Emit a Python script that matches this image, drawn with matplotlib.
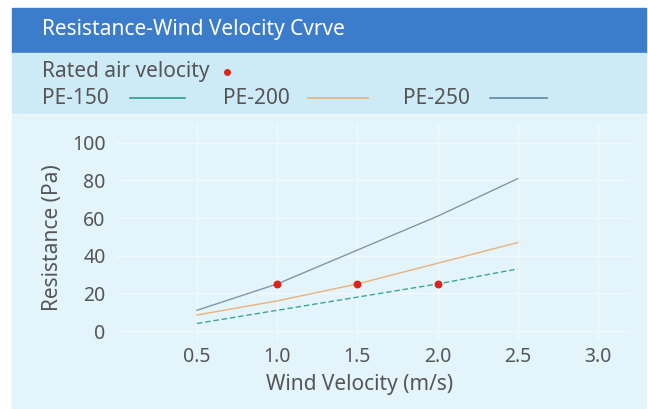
import numpy as np
import matplotlib
matplotlib.use('Agg')
import matplotlib.pyplot as plt
from matplotlib.patches import Rectangle
from matplotlib.lines import Line2D

plt.rcParams['font.family'] = ['Noto Sans', 'DejaVu Sans']

# data
velocity = [0.5, 1.0, 1.5, 2.0, 2.5]
pe150 = [4, 11, 18, 25, 33]
pe200 = [8.5, 16, 25, 36, 47]
pe250 = [11, 25, 43, 61, 81]
rated_x = [1.0, 1.5, 2.0]
rated_y = [25, 25, 25]
xticks = [0.5, 1.0, 1.5, 2.0, 2.5, 3.0]
yticks = [0, 20, 40, 60, 80, 100]

W, H = 648, 409
fig = plt.figure(figsize=(W / 100, H / 100), dpi=100)
FS = 15
grey = '#555555'

def px(x, y):
    # pixel coords (top-left origin) -> figure fraction
    return x / W, 1 - y / H

# backgrounds: title bar, legend band, plot panel
L, R = 12, 646
fig.patches.append(Rectangle(px(L, 53), (R - L) / W, 45 / H, transform=fig.transFigure,
                             color='#3b7dca', zorder=-10))
fig.patches.append(Rectangle(px(L, 113), (R - L) / W, 60 / H, transform=fig.transFigure,
                             color='#cdeaf7', zorder=-10))
fig.patches.append(Rectangle(px(L, H), (R - L) / W, (H - 115) / H, transform=fig.transFigure,
                             color='#e4f4fb', zorder=-10))

fig.text(*px(42, 30), 'Resistance-Wind Velocity Cvrve', color='white', fontsize=FS,
         va='center', ha='left')

# legend band
fig.text(*px(42, 72), 'Rated air velocity', color=grey, fontsize=FS, va='center')
fig.add_artist(Line2D([227 / W], [1 - 72 / H], marker='o', color='#d9261c', markersize=4,
                      transform=fig.transFigure))
entries = [('PE-150', '#2e9e8a', 42, 130, 185),
           ('PE-200', '#e2b27c', 223, 308, 368),
           ('PE-250', '#5b8aa8', 403, 490, 547)]
for name, col, tx, l0, l1 in entries:
    fig.text(*px(tx, 99), name, color=grey, fontsize=FS, va='center')
    fig.add_artist(Line2D([l0 / W, l1 / W], [1 - 98 / H] * 2, color=col, lw=1.2,
                          transform=fig.transFigure))

ax = fig.add_axes([0.1802, 0.1677, 0.792, 0.529])
ax.set_facecolor('none')
ax.plot(velocity, pe150, color='#3aa894', lw=1, ls=(0, (4, 2)))
ax.plot(velocity, pe200, color='#eab27a', lw=1)
ax.plot(velocity, pe250, color='#8196a6', lw=1)
ax.scatter(rated_x, rated_y, color='#d9261c', s=22, zorder=5)

ax.set_xlim(0.0, 3.2)
ax.set_ylim(-5, 110)
ax.set_xticks(xticks)
ax.set_xticklabels([f'{v:.1f}' for v in xticks])
ax.set_yticks(yticks)
for s in ax.spines.values():
    s.set_visible(False)
ax.tick_params(length=0, colors=grey, labelsize=14)
ax.tick_params(axis='x', pad=5)
ax.tick_params(axis='y', pad=8)
ax.grid(True, color='#f2fafd', lw=1)
ax.set_axisbelow(True)
ax.set_xlabel('Wind Velocity (m/s)', color=grey, fontsize=FS, va='center')
ax.set_ylabel('Resistance (Pa)', color=grey, fontsize=FS, va='center')
ax.xaxis.set_label_coords(0.474, -0.206)
ax.yaxis.set_label_coords(-0.126, 0.475)

fig.savefig('out.png', dpi=100)
